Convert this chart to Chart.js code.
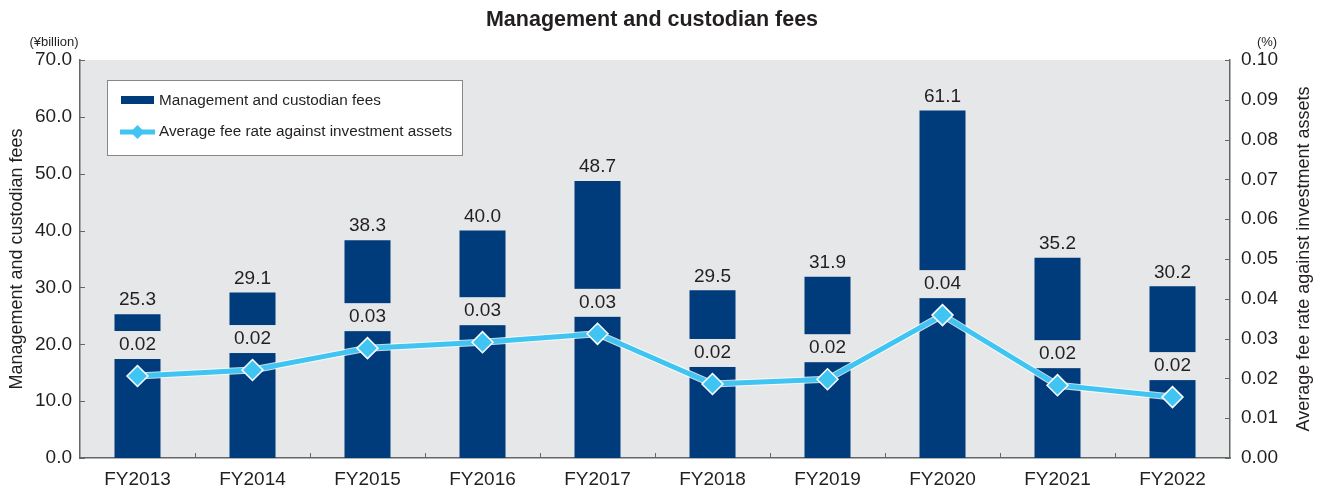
<!DOCTYPE html>
<html>
<head>
<meta charset="utf-8">
<script src="https://cdn.jsdelivr.net/npm/chart.js@4.4.0/dist/chart.umd.min.js"></script>
<style>
html, body { margin: 0; padding: 0; background: #fff; }
#wrap { width: 1319px; height: 487px; position: relative; }
</style>
</head>
<body>
<div id="wrap"><canvas id="canvas"></canvas></div>
<script>
// data
const years = ['FY2013', 'FY2014', 'FY2015', 'FY2016', 'FY2017', 'FY2018', 'FY2019', 'FY2020', 'FY2021', 'FY2022']
const fees = [25.3, 29.1, 38.3, 40.0, 48.7, 29.5, 31.9, 61.1, 35.2, 30.2]          // ¥billion
const feeRates = [0.0206, 0.0221, 0.0276, 0.0291, 0.0312, 0.0186, 0.0198, 0.0359, 0.0183, 0.0153] // %
const feeAxis = { min: 0, max: 70, step: 10 }
const rateAxis = { min: 0, max: 0.10, step: 0.01 }

const NAVY = '#003b7b'
const SKY = '#40c4f2'
const PLOT_BG = '#e6e7e8'
const AXIS = '#666'
const TEXT = '#231f20'
const FONT = '"Liberation Sans", Arial, sans-serif'

const chartText = {
    id: 'chartText',
    beforeDraw(chart) {
        const { ctx, chartArea: a } = chart
        ctx.save()
        ctx.fillStyle = PLOT_BG
        ctx.fillRect(a.left, a.top, a.right - a.left, a.bottom - a.top)
        ctx.restore()
    },
    afterDatasetDraw(chart, args) {
        const ctx = chart.ctx
        if (args.index === 0) {
            // labels above the bars
            const bars = chart.getDatasetMeta(0).data
            ctx.save()
            ctx.font = '19px ' + FONT
            ctx.fillStyle = TEXT
            ctx.textAlign = 'center'
            ctx.textBaseline = 'middle'
            bars.forEach((b, i) => ctx.fillText(fees[i].toFixed(1), b.x, b.y - 14))
            // rate labels, with a background box that cuts the bar
            const pts = chart.getDatasetMeta(1).data
            pts.forEach((p, i) => {
                ctx.fillStyle = PLOT_BG
                ctx.fillRect(p.x - 30, p.y - 45, 60, 28)
                ctx.fillStyle = TEXT
                ctx.fillText(feeRates[i].toFixed(2), p.x, p.y - 31)
            })
            ctx.restore()
        }
    },
    beforeDatasetDraw(chart, args) {
        if (args.index === 1) {
            // light outline under the line
            const pts = chart.getDatasetMeta(1).data
            const ctx = chart.ctx
            ctx.save()
            ctx.strokeStyle = 'rgba(255,255,255,0.8)'
            ctx.lineWidth = 7
            ctx.lineJoin = 'round'
            ctx.beginPath()
            pts.forEach((p, i) => i === 0 ? ctx.moveTo(p.x, p.y) : ctx.lineTo(p.x, p.y))
            ctx.stroke()
            ctx.restore()
        }
    },
    afterDraw(chart) {
        const { ctx, chartArea: a, scales } = chart
        ctx.save()

        // inward tick marks
        ctx.strokeStyle = AXIS
        ctx.lineWidth = 1
        ctx.beginPath()
        scales.y.ticks.forEach(t => {
            const y = Math.round(scales.y.getPixelForValue(t.value)) + 0.5
            ctx.moveTo(a.left, y); ctx.lineTo(a.left + 5, y)
        })
        scales.y1.ticks.forEach(t => {
            const y = Math.round(scales.y1.getPixelForValue(t.value)) + 0.5
            ctx.moveTo(a.right - 5, y); ctx.lineTo(a.right, y)
        })
        const w = (a.right - a.left) / years.length
        for (let i = 1; i < years.length; i++) {
            const x = Math.round(a.left + w * i) + 0.5
            ctx.moveTo(x, a.bottom); ctx.lineTo(x, a.bottom - 5)
        }
        ctx.stroke()

        // title and units
        ctx.fillStyle = TEXT
        ctx.textBaseline = 'middle'
        ctx.textAlign = 'center'
        ctx.font = 'bold 21.5px ' + FONT
        ctx.fillText('Management and custodian fees', 652, 20)
        ctx.font = '13px ' + FONT
        ctx.fillText('(¥billion)', 54, 42)
        ctx.fillText('(%)', 1267, 42)

        // axis titles
        ctx.font = '18px ' + FONT
        ctx.save()
        ctx.translate(17, (a.top + a.bottom) / 2)
        ctx.rotate(-Math.PI / 2)
        ctx.fillText('Management and custodian fees', 0, 0)
        ctx.restore()
        ctx.save()
        ctx.translate(1304, (a.top + a.bottom) / 2)
        ctx.rotate(-Math.PI / 2)
        ctx.fillText('Average fee rate against investment assets', 0, 0)
        ctx.restore()

        // legend box
        ctx.fillStyle = '#fff'
        ctx.fillRect(107, 80, 355, 75)
        ctx.strokeStyle = '#888'
        ctx.lineWidth = 1
        ctx.strokeRect(107.5, 80.5, 355, 75)
        ctx.fillStyle = NAVY
        ctx.fillRect(121, 96, 33, 8)
        ctx.strokeStyle = SKY
        ctx.lineWidth = 5
        ctx.beginPath()
        ctx.moveTo(120, 132); ctx.lineTo(155, 132)
        ctx.stroke()
        ctx.fillStyle = SKY
        ctx.beginPath()
        ctx.moveTo(137.5, 125); ctx.lineTo(144.5, 132); ctx.lineTo(137.5, 139); ctx.lineTo(130.5, 132)
        ctx.closePath()
        ctx.fill()
        ctx.fillStyle = TEXT
        ctx.textAlign = 'left'
        ctx.font = '15.3px ' + FONT
        ctx.fillText(chart.data.datasets[0].label, 159, 101)
        ctx.fillText(chart.data.datasets[1].label, 159, 132)

        ctx.restore()
    }
}

const ctx = document.querySelector('#canvas')

new Chart(ctx, {
    data: {
        labels: years,
        datasets: [{
            type: 'bar',
            label: 'Management and custodian fees',
            data: fees,
            yAxisID: 'y',
            backgroundColor: NAVY,
            borderWidth: 0,
            categoryPercentage: 1,
            barPercentage: 0.4,
            order: 1
        }, {
            type: 'line',
            label: 'Average fee rate against investment assets',
            data: feeRates,
            yAxisID: 'y1',
            borderColor: SKY,
            borderWidth: 5,
            pointStyle: 'rectRot',
            pointRadius: 10.5,
            pointBackgroundColor: SKY,
            pointBorderColor: '#fff',
            pointBorderWidth: 1.5,
            tension: 0,
            order: 0
        }]
    },
    options: {
        responsive: true,
        maintainAspectRatio: false,
        animation: false,
        layout: {
            padding: { top: 60, left: 0, right: 0, bottom: 0 }
        },
        scales: {
            x: {
                afterFit: (scale) => { scale.height = 29 },
                grid: { display: false },
                border: { display: true, color: AXIS, width: 1.5 },
                ticks: {
                    color: TEXT,
                    padding: 2,
                    font: { family: FONT, size: 19 }
                }
            },
            y: {
                position: 'left',
                min: feeAxis.min,
                max: feeAxis.max,
                afterFit: (scale) => { scale.width = 80 },
                grid: { display: false },
                border: { display: true, color: AXIS, width: 1.5 },
                ticks: {
                    stepSize: feeAxis.step,
                    color: TEXT,
                    padding: 0,
                    font: { family: FONT, size: 19 },
                    callback: function(value) {
                        return value.toFixed(1)
                    }
                }
            },
            y1: {
                position: 'right',
                min: rateAxis.min,
                max: rateAxis.max,
                afterFit: (scale) => { scale.width = 89 },
                grid: { display: false },
                border: { display: true, color: AXIS, width: 1.5 },
                ticks: {
                    stepSize: rateAxis.step,
                    color: TEXT,
                    padding: 3,
                    font: { family: FONT, size: 19 },
                    callback: function(value) {
                        return value.toFixed(2)
                    }
                }
            }
        },
        plugins: {
            legend: { display: false },
            title: { display: false },
            tooltip: { enabled: false }
        },
        hover: { mode: null }
    },
    plugins: [chartText]
})
</script>
</body>
</html>
